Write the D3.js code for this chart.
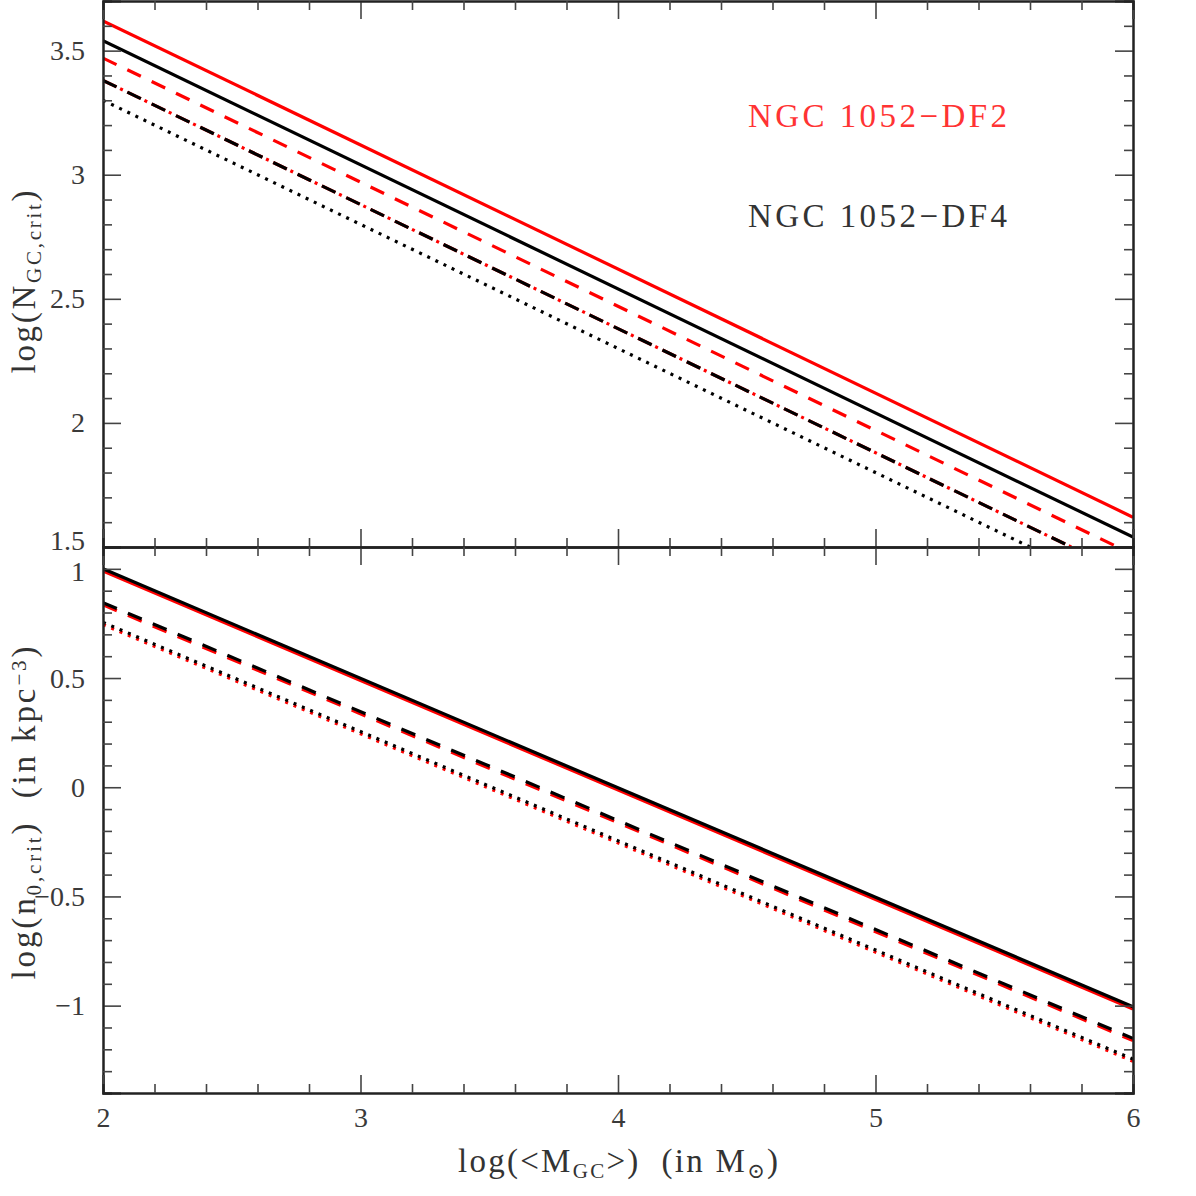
<!DOCTYPE html>
<html>
<head>
<meta charset="utf-8">
<script src="https://cdn.jsdelivr.net/npm/d3@7"></script>
<style>
  body { margin: 0; background: #fff; }
  text { font-family: "Liberation Serif", "DejaVu Serif", serif; white-space: pre; }
</style>
</head>
<body>
<div id="chart"></div>
<script>
// x range of every line (log <M_GC>)
const xEnds = [2, 6];

// top panel: log(N_GC,crit) at x = 2 and x = 6
const topDF2Solid   = [3.62, 1.62];
const topDF4Solid   = [3.54, 1.54];
const topDF2Dashed  = [3.47, 1.47];
const topDF2DashDot = [3.38, 1.38];
const topDF4Dashed  = [3.38, 1.38];
const topDF4Dotted  = [3.30, 1.30];

// bottom panel: log(n_0,crit) at x = 2 and x = 6
const botDF2Solid  = [0.99, -1.015];
const botDF4Solid  = [1.0, -1.005];
const botDF2Dashed = [0.835, -1.16];
const botDF4Dashed = [0.845, -1.15];
const botDF2Dotted = [0.745, -1.255];
const botDF4Dotted = [0.755, -1.245];

const xTicks = [2, 3, 4, 5, 6];
const topYTicks = [1.5, 2, 2.5, 3, 3.5];
const botYTicks = [-1, -0.5, 0, 0.5, 1];
const labels = ["NGC 1052\u2212DF2", "NGC 1052\u2212DF4"];

var W = 1196, H = 1196;
var margin = {left: 103, right: 63, top: 1, mid: 547, bottom: 1093};
var SERIF = "'Liberation Serif', 'DejaVu Serif', serif";

var svg = d3.select("#chart").append("svg")
  .attr("width", W).attr("height", H);

var x = d3.scaleLinear().domain([2, 6]).range([margin.left, W - margin.right]);
var yTop = d3.scaleLinear().domain([1.5, 3.7]).range([margin.mid, margin.top]);
var yBot = d3.scaleLinear().domain([-1.4, 1.1]).range([margin.bottom, margin.mid]);

var fmt = d => String(d).replace("-", "\u2212");
var xMinor = d3.range(2, 6.001, 0.2).filter(d => Math.abs(d - Math.round(d)) > 1e-6);
function yMinorOf(lo, hi) {
  return d3.range(Math.round(lo * 10), Math.round(hi * 10) + 1)
    .map(d => d / 10).filter(d => Math.abs(d * 2 - Math.round(d * 2)) > 1e-6);
}

// clip paths
[["clipTop", yTop], ["clipBot", yBot]].forEach(([id, y]) => {
  svg.append("clipPath").attr("id", id).append("rect")
    .attr("x", x.range()[0]).attr("y", y.range()[1])
    .attr("width", x.range()[1] - x.range()[0])
    .attr("height", y.range()[0] - y.range()[1]);
});

function drawLine(vals, y, clip, color, dash) {
  var line = d3.line().x((d, i) => x(xEnds[i])).y(d => y(d));
  svg.append("path")
    .datum(vals)
    .attr("clip-path", "url(#" + clip + ")")
    .attr("d", line)
    .attr("fill", "none")
    .attr("stroke", color)
    .attr("stroke-width", 3.2)
    .attr("stroke-dasharray", dash || null);
}

var DASH = "15,12", DOT = "3,6", DASHDOT = "15,4,3,5";

drawLine(topDF2Solid, yTop, "clipTop", "#f00");
drawLine(topDF4Solid, yTop, "clipTop", "#000");
drawLine(topDF2Dashed, yTop, "clipTop", "#f00", DASH);
drawLine(topDF2DashDot, yTop, "clipTop", "#f00", DASHDOT);
drawLine(topDF4Dashed, yTop, "clipTop", "#000", DASH);
drawLine(topDF4Dotted, yTop, "clipTop", "#000", DOT);

drawLine(botDF2Solid, yBot, "clipBot", "#f00");
drawLine(botDF4Solid, yBot, "clipBot", "#000");
drawLine(botDF2Dashed, yBot, "clipBot", "#f00", DASH);
drawLine(botDF4Dashed, yBot, "clipBot", "#000", DASH);
drawLine(botDF2Dotted, yBot, "clipBot", "#f00", DOT);
drawLine(botDF4Dotted, yBot, "clipBot", "#000", DOT);

// axes with inward major + minor ticks
function axisPair(axisFn, scale, major, minor, pos, labelled, pad) {
  var g = svg.append("g").attr("transform", pos);
  g.call(axisFn(scale).tickValues(major).tickSize(-18).tickPadding(pad || 16)
    .tickFormat(labelled ? fmt : ""));
  var gm = svg.append("g").attr("transform", pos);
  gm.call(axisFn(scale).tickValues(minor).tickSize(-9).tickFormat(""));
  [g, gm].forEach(a => {
    a.attr("font-family", SERIF).attr("font-size", 28);
    a.select(".domain").attr("stroke", "#222").attr("stroke-width", 2);
    a.selectAll(".tick line").attr("stroke", "#444").attr("stroke-width", 1.6);
    a.selectAll(".tick text").attr("fill", "#3a3a3a");
  });
  return g;
}

var xL = x.range()[0], xR = x.range()[1];
// top panel
var topLeft = axisPair(d3.axisLeft, yTop, topYTicks, yMinorOf(1.5, 3.7), `translate(${xL},0)`, true, 18);
// lift the bottom "1.5" a little so it clears the "1" of the lower panel
topLeft.selectAll(".tick text").filter(d => d === 1.5).attr("dy", "0.1em");
axisPair(d3.axisRight, yTop, topYTicks, yMinorOf(1.5, 3.7), `translate(${xR},0)`, false);
axisPair(d3.axisTop, x, xTicks, xMinor, `translate(0,${margin.top})`, false);
axisPair(d3.axisBottom, x, xTicks, xMinor, `translate(0,${margin.mid})`, false);
// bottom panel
var botLeft = axisPair(d3.axisLeft, yBot, botYTicks, yMinorOf(-1.4, 1.1), `translate(${xL},0)`, true, 18);
botLeft.selectAll(".tick text").filter(d => d === 1).attr("dy", "0.42em");
axisPair(d3.axisRight, yBot, botYTicks, yMinorOf(-1.4, 1.1), `translate(${xR},0)`, false);
axisPair(d3.axisTop, x, xTicks, xMinor, `translate(0,${margin.mid})`, false);
axisPair(d3.axisBottom, x, xTicks, xMinor, `translate(0,${margin.bottom})`, true, 14);

// legend text
svg.append("text").attr("x", 748).attr("y", 127).attr("fill", "#f33")
  .attr("textLength", 259).attr("lengthAdjust", "spacing")
  .style("font-size", "33px").text(labels[0]);
svg.append("text").attr("x", 748).attr("y", 227).attr("fill", "#333")
  .attr("textLength", 259).attr("lengthAdjust", "spacing")
  .style("font-size", "33px").text(labels[1]);

// axis titles
function subText(t, parts) {
  parts.forEach(p => {
    var s = t.append("tspan").text(p.t);
    if (p.sub) s.attr("baseline-shift", "-28%").style("font-size", "21px");
    if (p.sup) s.attr("baseline-shift", "45%").style("font-size", "21px");
  });
}

var t1 = svg.append("text")
  .attr("transform", `translate(35,282) rotate(-90)`)
  .attr("text-anchor", "middle").attr("fill", "#333").style("font-size", "33px")
  .attr("textLength", 183).attr("lengthAdjust", "spacing");
subText(t1, [{t: "log(N"}, {t: "GC,crit", sub: true}, {t: ")"}]);

var t2 = svg.append("text")
  .attr("transform", `translate(35,813) rotate(-90)`)
  .attr("text-anchor", "middle").attr("fill", "#333").style("font-size", "33px")
  .attr("textLength", 333).attr("lengthAdjust", "spacing");
subText(t2, [{t: "log(n"}, {t: "0,crit", sub: true}, {t: ")  (in kpc"}, {t: "\u22123", sup: true}, {t: ")"}]);

var t3 = svg.append("text")
  .attr("x", (xL + xR) / 2).attr("y", 1172)
  .attr("text-anchor", "middle").attr("fill", "#333").style("font-size", "33px")
  .attr("textLength", 320).attr("lengthAdjust", "spacing");
subText(t3, [{t: "log(<M"}, {t: "GC", sub: true}, {t: ">)  (in M"}, {t: "\u2299", sub: true}, {t: ")"}]);
</script>
</body>
</html>
